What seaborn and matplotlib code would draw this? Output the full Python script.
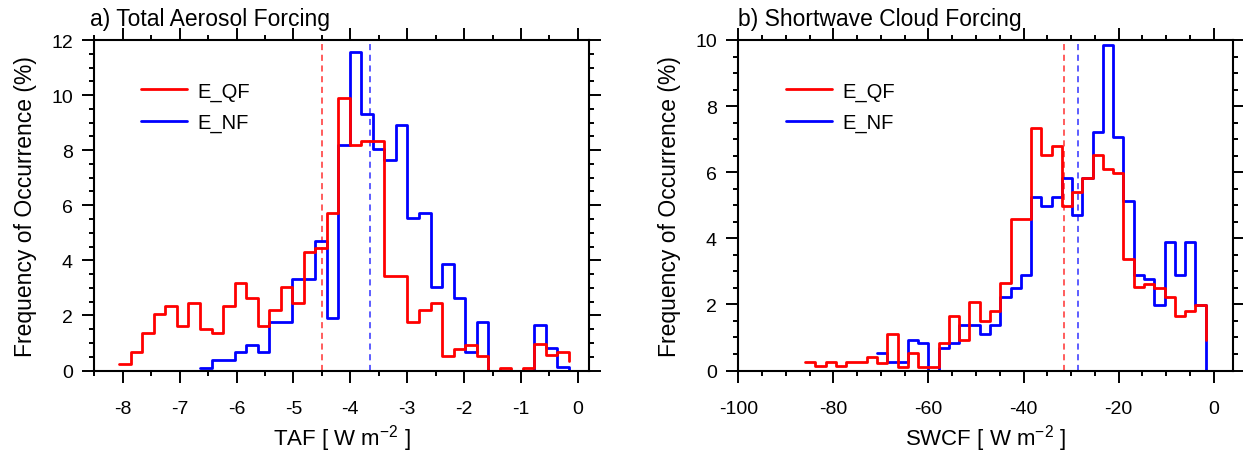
import numpy as np
import pandas as pd
import matplotlib
matplotlib.use("Agg")
import matplotlib.pyplot as plt
from matplotlib.lines import Line2D
from matplotlib.ticker import MultipleLocator
import seaborn as sns

# ---------------- data ----------------
series_names = ["E_QF", "E_NF"]

# panel a: Total Aerosol Forcing, 39 bins
taf_edge_lo, taf_edge_hi, taf_nbins = -8.06, -0.16, 39
taf_qf = [0.24, 0.66, 1.35, 2.06, 2.34, 1.63, 2.46, 1.49, 1.35, 2.34,
          3.17, 2.62, 1.63, 2.18, 3.03, 2.46, 4.29, 4.45, 5.71, 9.89,
          8.18, 8.34, 8.34, 3.43, 3.43, 1.75, 2.19, 2.46, 0.54, 0.79,
          0.94, 0.54, 0.00, 0.09, 0.00, 0.09, 0.95, 0.58, 0.67]
taf_qf_end = 0.35
taf_nf = [None, None, None, None, None, None, None, 0.09, 0.37, 0.37,
          0.66, 0.94, 0.66, 1.77, 1.77, 3.31, 3.31, 4.71, 1.91, 8.18,
          11.56, 9.33, 8.06, 7.64, 8.92, 5.54, 5.71, 3.03, 3.86, 2.64,
          0.66, 1.77, 0.00, 0.00, 0.00, 0.00, 1.64, 0.81, 0.12]
taf_nf_end = 0.0
taf_means = [-4.50, -3.66]

# panel b: Shortwave Cloud Forcing, 39 bins
swcf_edge_lo, swcf_edge_hi, swcf_nbins = -85.95, -1.69, 39
swcf_qf = [0.27, 0.13, 0.27, 0.13, 0.27, 0.27, 0.40, 0.22, 1.10, 0.11,
           0.53, 0.11, 0.11, 0.83, 1.65, 0.93, 2.07, 1.51, 1.79, 2.64,
           4.59, 4.59, 7.35, 6.52, 6.80, 4.99, 5.41, 5.82, 6.52, 6.10,
           5.97, 3.38, 2.52, 2.62, 2.49, 2.22, 1.66, 1.79, 1.97]
swcf_qf_end = 0.93
swcf_nf = [None, None, None, None, None, None, None, 0.52, 0.25, 0.25,
           0.93, 0.83, 0.00, 0.68, 0.83, 1.38, 1.38, 1.11, 1.38, 2.22,
           2.49, 2.90, 5.26, 4.99, 5.26, 5.83, 4.71, 5.82, 7.21, 9.86,
           7.08, 5.14, 2.90, 2.77, 1.97, 3.88, 2.90, 3.88, 1.97]
swcf_nf_end = 0.0
swcf_means = [-31.5, -28.6]

titles = ["a) Total Aerosol Forcing", "b) Shortwave Cloud Forcing"]
xlabels = ["TAF [ W m$^{\\mathregular{-2}}$ ]", "SWCF [ W m$^{\\mathregular{-2}}$ ]"]
ylabel = "Frequency of Occurrence (%)"

# ---------------- style ----------------
sns.set_theme(style="ticks")
plt.rcParams["font.family"] = ["Liberation Sans", "DejaVu Sans"]
plt.rcParams["mathtext.fontset"] = "custom"
plt.rcParams["mathtext.rm"] = "Liberation Sans"
plt.rcParams["mathtext.it"] = "Liberation Sans:italic"
plt.rcParams["axes.unicode_minus"] = False
plt.rcParams["axes.linewidth"] = 1.5
for k in ["text.color", "axes.labelcolor", "xtick.color", "ytick.color", "axes.edgecolor"]:
    plt.rcParams[k] = "black"

colors = {"E_QF": "#ff0000", "E_NF": "#0000ff"}


def step_frame(lo, hi, nbins, vals, end):
    edges = np.linspace(lo, hi, nbins + 1)
    y = list(vals) + [end]
    df = pd.DataFrame({"x": edges, "y": [np.nan if v is None else v for v in y]})
    return df.dropna()


W, H = 1243, 456
fig = plt.figure(figsize=(W / 100, H / 100), dpi=100)
ax_bottom = 1 - 371.5 / H
ax_h = 330.5 / H
ax1 = fig.add_axes([94.3 / W, ax_bottom, 495 / W, ax_h])
ax2 = fig.add_axes([738.3 / W, ax_bottom, 494.4 / W, ax_h])

panels = [
    (ax1, (taf_edge_lo, taf_edge_hi, taf_nbins), taf_qf, taf_qf_end, taf_nf, taf_nf_end,
     taf_means, (-8.5, 0.2), (0, 12), 1, 0.5, 2, 0.5, 0.094),
    (ax2, (swcf_edge_lo, swcf_edge_hi, swcf_nbins), swcf_qf, swcf_qf_end, swcf_nf, swcf_nf_end,
     swcf_means, (-100, 4), (0, 10), 20, 5, 2, 0.5, 0.0965),
]

for i, (ax, (lo, hi, nb), qf, qf_end, nf, nf_end, means, xlim, ylim,
        xmaj, xmin, ymaj, ymin, legx) in enumerate(panels):
    df_nf = step_frame(lo, hi, nb, nf, nf_end)
    df_qf = step_frame(lo, hi, nb, qf, qf_end)
    sns.lineplot(data=df_nf, x="x", y="y", ax=ax, color=colors["E_NF"],
                 drawstyle="steps-post", lw=2.0, estimator=None, sort=False)
    sns.lineplot(data=df_qf, x="x", y="y", ax=ax, color=colors["E_QF"],
                 drawstyle="steps-post", lw=2.0, estimator=None, sort=False)
    ax.axvline(means[0], color="#ff3030", lw=1.1, ls=(0, (4, 3)), zorder=1)
    ax.axvline(means[1], color="#3030ff", lw=1.1, ls=(0, (4, 3)), zorder=1)

    ax.set_xlim(*xlim)
    ax.set_ylim(*ylim)
    ax.xaxis.set_major_locator(MultipleLocator(xmaj))
    ax.xaxis.set_minor_locator(MultipleLocator(xmin))
    ax.yaxis.set_major_locator(MultipleLocator(ymaj))
    ax.yaxis.set_minor_locator(MultipleLocator(ymin))
    ax.tick_params(which="both", direction="out", top=True, right=True,
                   labeltop=False, labelright=False, width=1.4, color="black")
    ax.tick_params(which="major", length=8.5, labelsize=14)
    ax.tick_params(axis="x", which="major", pad=12.5)
    ax.tick_params(axis="y", which="major", pad=7)
    ax.tick_params(which="minor", length=3.6)
    for s in ax.spines.values():
        s.set_visible(True)
        s.set_linewidth(1.5)

    ax.set_xlabel(xlabels[i], fontsize=16, labelpad=4)
    ax.set_ylabel(ylabel, fontsize=16.5, labelpad=10)
    t = ax.set_title(titles[i], loc="left", fontsize=16.5, pad=10.5)
    if i == 0:
        t.set_x(-0.008)

    handles = [Line2D([], [], color=colors[n], lw=2.0) for n in series_names]
    ax.legend(handles, series_names, loc="upper left", bbox_to_anchor=(legx, 0.875),
              frameon=False, fontsize=14.5, handlelength=2.3, handletextpad=0.5,
              labelspacing=0.62, borderpad=0, borderaxespad=0)

fig.savefig("out.png", dpi=100)
